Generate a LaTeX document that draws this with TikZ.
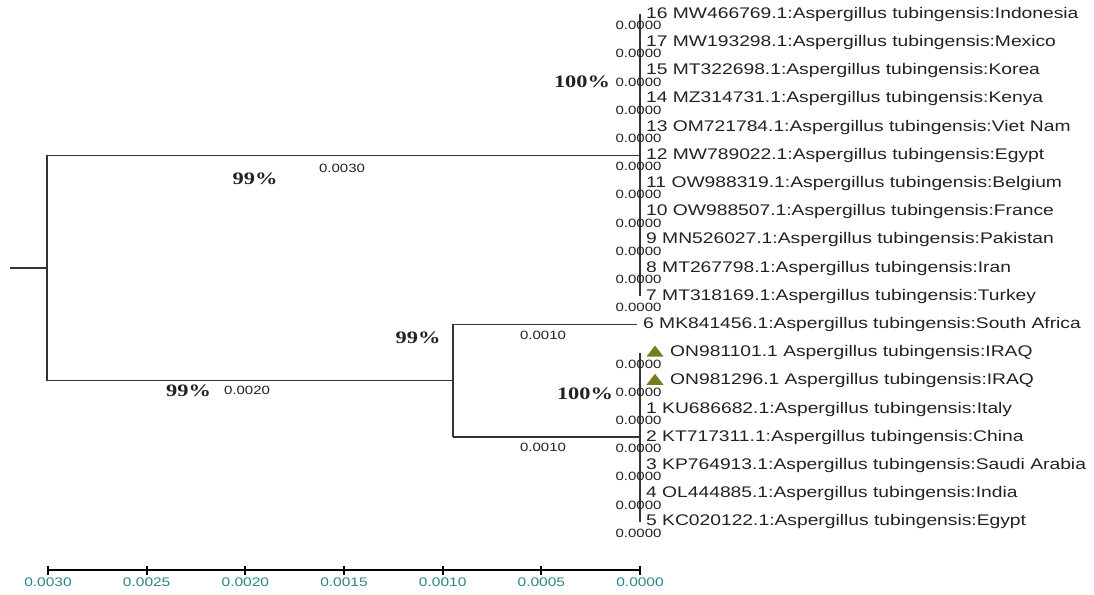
\documentclass[tikz,border=0pt]{standalone}
\usepackage{fontspec}
\usetikzlibrary{calc}
\setmainfont{Liberation Sans}
\newfontfamily\labfont[FakeStretch=1.25]{Liberation Sans}
\newfontfamily\pctfont[FakeStretch=1.28]{Liberation Serif}
\definecolor{treecol}{HTML}{333333}
\definecolor{txtcol}{HTML}{222222}
\definecolor{scalecol}{HTML}{2F8585}
\definecolor{markcol}{HTML}{7A7A1E}
\begin{document}
\begin{tikzpicture}[x=1pt,y=-1pt,
  taxon/.style={anchor=base west, inner sep=0pt, font=\labfont\fontsize{15.4}{16}\selectfont, text=txtcol},
  blen/.style={inner sep=0pt, font=\labfont\fontsize{12}{13}\selectfont, text=txtcol},
  boot/.style={inner sep=0pt, font=\pctfont\bfseries\fontsize{17.5}{18}\selectfont, text=txtcol},
  branch/.style={draw=treecol, line width=1.2pt},
  scalebar/.style={draw=black, line width=2pt},
  scalelab/.style={inner sep=0pt, font=\labfont\fontsize{12.4}{13}\selectfont, text=scalecol},
  marker/.style={fill=markcol, draw=none}
]
\useasboundingbox (0,0) rectangle (1094,594);

% leaf coordinates
\foreach \i in {0,...,18}{
  \coordinate (l\i) at (640,{12.7+28.2*\i+1.5});
}
\coordinate (l11) at (637,{12.7+28.2*11+1.5});

% internal nodes
\coordinate (r0) at (10,268);
\coordinate (root) at (47,268);
\coordinate (A) at (640,155.2);
\coordinate (B) at (453,380.8);
\coordinate (C) at (640,436.9);

% tree
\draw[branch] (r0) -- (root);
\draw[branch] (root |- A) -- (root |- B);
\draw[branch] (root |- A) -- (A);
\draw[branch] (root |- B) -- (B);
\draw[branch] (l0) -- (l10);
\draw[branch] (B |- l11) -- (B |- C);
\draw[branch] (B |- l11) -- (l11);
\draw[branch] (B |- C) -- (C);
\draw[branch] (l12) -- (l18);

% taxa labels
\foreach \i/\t in {
  0/{16 MW466769.1:Aspergillus tubingensis:Indonesia},
  1/{17 MW193298.1:Aspergillus tubingensis:Mexico},
  2/{15 MT322698.1:Aspergillus tubingensis:Korea},
  3/{14 MZ314731.1:Aspergillus tubingensis:Kenya},
  4/{13 OM721784.1:Aspergillus tubingensis:Viet Nam},
  5/{12 MW789022.1:Aspergillus tubingensis:Egypt},
  6/{11 OW988319.1:Aspergillus tubingensis:Belgium},
  7/{10 OW988507.1:Aspergillus tubingensis:France},
  8/{9 MN526027.1:Aspergillus tubingensis:Pakistan},
  9/{8 MT267798.1:Aspergillus tubingensis:Iran},
  10/{7 MT318169.1:Aspergillus tubingensis:Turkey},
  14/{1 KU686682.1:Aspergillus tubingensis:Italy},
  15/{2 KT717311.1:Aspergillus tubingensis:China},
  16/{3 KP764913.1:Aspergillus tubingensis:Saudi Arabia},
  17/{4 OL444885.1:Aspergillus tubingensis:India},
  18/{5 KC020122.1:Aspergillus tubingensis:Egypt}}{
  \node[taxon] (t\i) at (646,{12.7+28.2*\i+5.5}) {\t};
}
\node[taxon] (t11) at (643,{12.7+28.2*11+5.5}) {6 MK841456.1:Aspergillus tubingensis:South Africa};
\node[taxon] (t12) at (670,{12.7+28.2*12+5.5}) {ON981101.1 Aspergillus tubingensis:IRAQ};
\node[taxon] (t13) at (670,{12.7+28.2*13+5.5}) {ON981296.1 Aspergillus tubingensis:IRAQ};

% markers
\foreach \i in {12,13}{
  \fill[marker] (646.5,{12.7+28.2*\i+5.5}) -- (663.5,{12.7+28.2*\i+5.5}) -- (655,{12.7+28.2*\i-5.5}) -- cycle;
}

% zero branch lengths
\foreach \i in {0,...,10,12,13,14,15,16,17,18}{
  \node[blen] (z\i) at (638.5,{12.7+28.2*\i+12.8}) {0.0000};
}

% branch lengths
\node[blen] (bA) at (342,168) {0.0030};
\node[blen] (bB) at (247,390) {0.0020};
\node[blen] (b6) at (543,335) {0.0010};
\node[blen] (bC) at (543,447) {0.0010};

% bootstrap values
\node[boot] (pA) at (255,178.5) {99\%};
\node[boot] (pB) at (188.5,391) {99\%};
\node[boot] (pBB) at (418,338) {99\%};
\node[boot] (pTop) at (582,81.5) {100\%};
\node[boot] (pC) at (585,393.5) {100\%};

% scale bar
\coordinate (s0) at (48,570);
\coordinate (s6) at (640,570);
\draw[scalebar] (s0) -- (s6);
\foreach \k/\v in {0/0.0030,1/0.0025,2/0.0020,3/0.0015,4/0.0010,5/0.0005,6/0.0000}{
  \coordinate (tk\k) at ({48+98.67*\k},570);
  \draw[scalebar] ($(tk\k)+(0,-4.5)$) -- ($(tk\k)+(0,4.5)$);
  \node[scalelab] (sl\k) at ({48+98.67*\k},582.5) {\v};
}
\end{tikzpicture}
\end{document}
